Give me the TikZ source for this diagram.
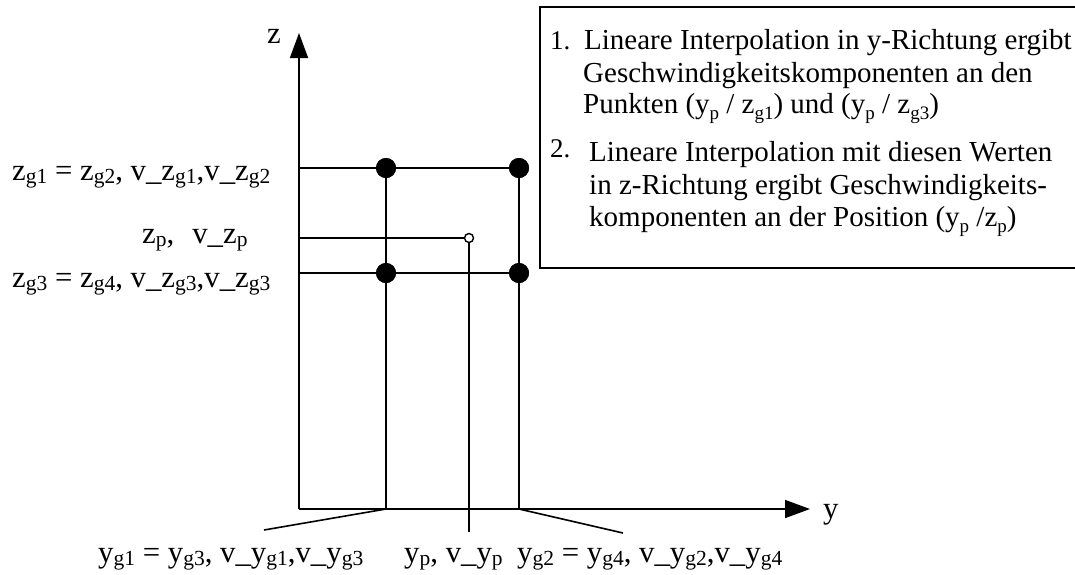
\documentclass[tikz,border=0pt]{standalone}
\usepackage{fontspec}
\setmainfont{Liberation Serif}
\usetikzlibrary{arrows.meta}
\newcommand\lsub[1]{\raisebox{-0.1em}{\fontsize{21.5}{21.5}\selectfont #1}}
\newcommand\bsub[1]{\raisebox{-0.22em}{\fontsize{19}{19}\selectfont #1}}
\begin{document}
\begin{tikzpicture}[x=1pt,y=-1pt,
  ln/.style={line width=1.6pt},
  bigdot/.style={circle,fill=black,inner sep=0pt,minimum size=20pt},
  smalldot/.style={circle,draw=black,fill=white,line width=1.4pt,inner sep=0pt,minimum size=9pt},
  axis/.style={line width=1.6pt,-{Triangle[length=25pt,width=18pt]}},
  lab/.style={anchor=base west,inner sep=0pt,font=\fontsize{30.8}{30.8}\selectfont},
  boxt/.style={anchor=base west,inner sep=0pt,font=\fontsize{29}{29}\selectfont},
  num/.style={anchor=base west,inner sep=0pt,font=\fontsize{27}{27}\selectfont}]
\useasboundingbox (0,0) rectangle (1075,574);
\clip (0,0) rectangle (1075,574);
% axes
\coordinate (O) at (299,509);
\coordinate (ztip) at (299,33);
\coordinate (ytip) at (810,509);
\draw[axis] (O) -- (ztip);
\draw[axis] (O) -- (ytip);
\node[lab] (zl) at (267,43) {z};
\node[lab] (yl) at (823,518) {y};
% grid points
\node[bigdot] (g1) at (386,168) {};
\node[bigdot] (g2) at (519,168) {};
\node[bigdot] (g3) at (386,273) {};
\node[bigdot] (g4) at (519,273) {};
\node[smalldot] (p) at (469,238) {};
\coordinate (zg1) at (299,168);
\coordinate (zg3) at (299,273);
\coordinate (zp) at (299,238);
\coordinate (yg1) at (386,509);
\coordinate (yg2) at (519,509);
\coordinate (pb) at (469,532);
\coordinate (d1) at (264,530);
\coordinate (d2) at (623,533);
\draw[ln] (zg1) -- (g1.center) -- (g2.center) -- (g4.center) -- (g3.center) -- (zg3);
\draw[ln] (g1.center) -- (yg1) -- (d1);
\draw[ln] (g2.center) -- (yg2) -- (d2);
\draw[ln] (zp) -- (p.west);
\draw[ln] (p.south) -- (pb);
\node[bigdot] at (g1) {};
\node[bigdot] at (g2) {};
\node[bigdot] at (g3) {};
\node[bigdot] at (g4) {};
% left labels
\node[lab] (lz1) at (12,180) {z\lsub{g1} = z\lsub{g2}, v\_z\lsub{g1},v\_z\lsub{g2}};
\node[lab] (lzp) at (142,243) {z\lsub{p},\hspace{18pt}v\_z\lsub{p}};
\node[lab] (lz3) at (12,287) {z\lsub{g3} = z\lsub{g4}, v\_z\lsub{g3},v\_z\lsub{g3}};
% bottom labels
\node[lab] (ly1) at (98,562) {y\lsub{g1} = y\lsub{g3}, v\_y\lsub{g1},v\_y\lsub{g3}};
\node[lab] (lyp) at (404,562) {y\lsub{p}, v\_y\lsub{p}};
\node[lab] (ly2) at (517,562) {y\lsub{g2} = y\lsub{g4}, v\_y\lsub{g2},v\_y\lsub{g4}};
% text box
\draw[line width=1.4pt] (1075,7) -- (540,7) -- (540,268) -- (1075,268);
\node[num] (n1) at (550,49) {1.};
\node[boxt] (t1) at (584,49) {Lineare Interpolation in y-Richtung ergibt};
\node[boxt] (t2) at (583,82) {Geschwindigkeitskomponenten an den};
\node[boxt] (t3) at (583,113) {Punkten (y\bsub{p} / z\bsub{g1}) und (y\bsub{p} / z\bsub{g3})};
\node[num] (n2) at (550,157) {2.};
\node[boxt] (t4) at (589,161) {Lineare Interpolation mit diesen Werten};
\node[boxt] (t5) at (589,194) {in z-Richtung ergibt Geschwindigkeits-};
\node[boxt] (t6) at (589,226) {komponenten an der Position (y\bsub{p} /z\bsub{p})};
\end{tikzpicture}
\end{document}
